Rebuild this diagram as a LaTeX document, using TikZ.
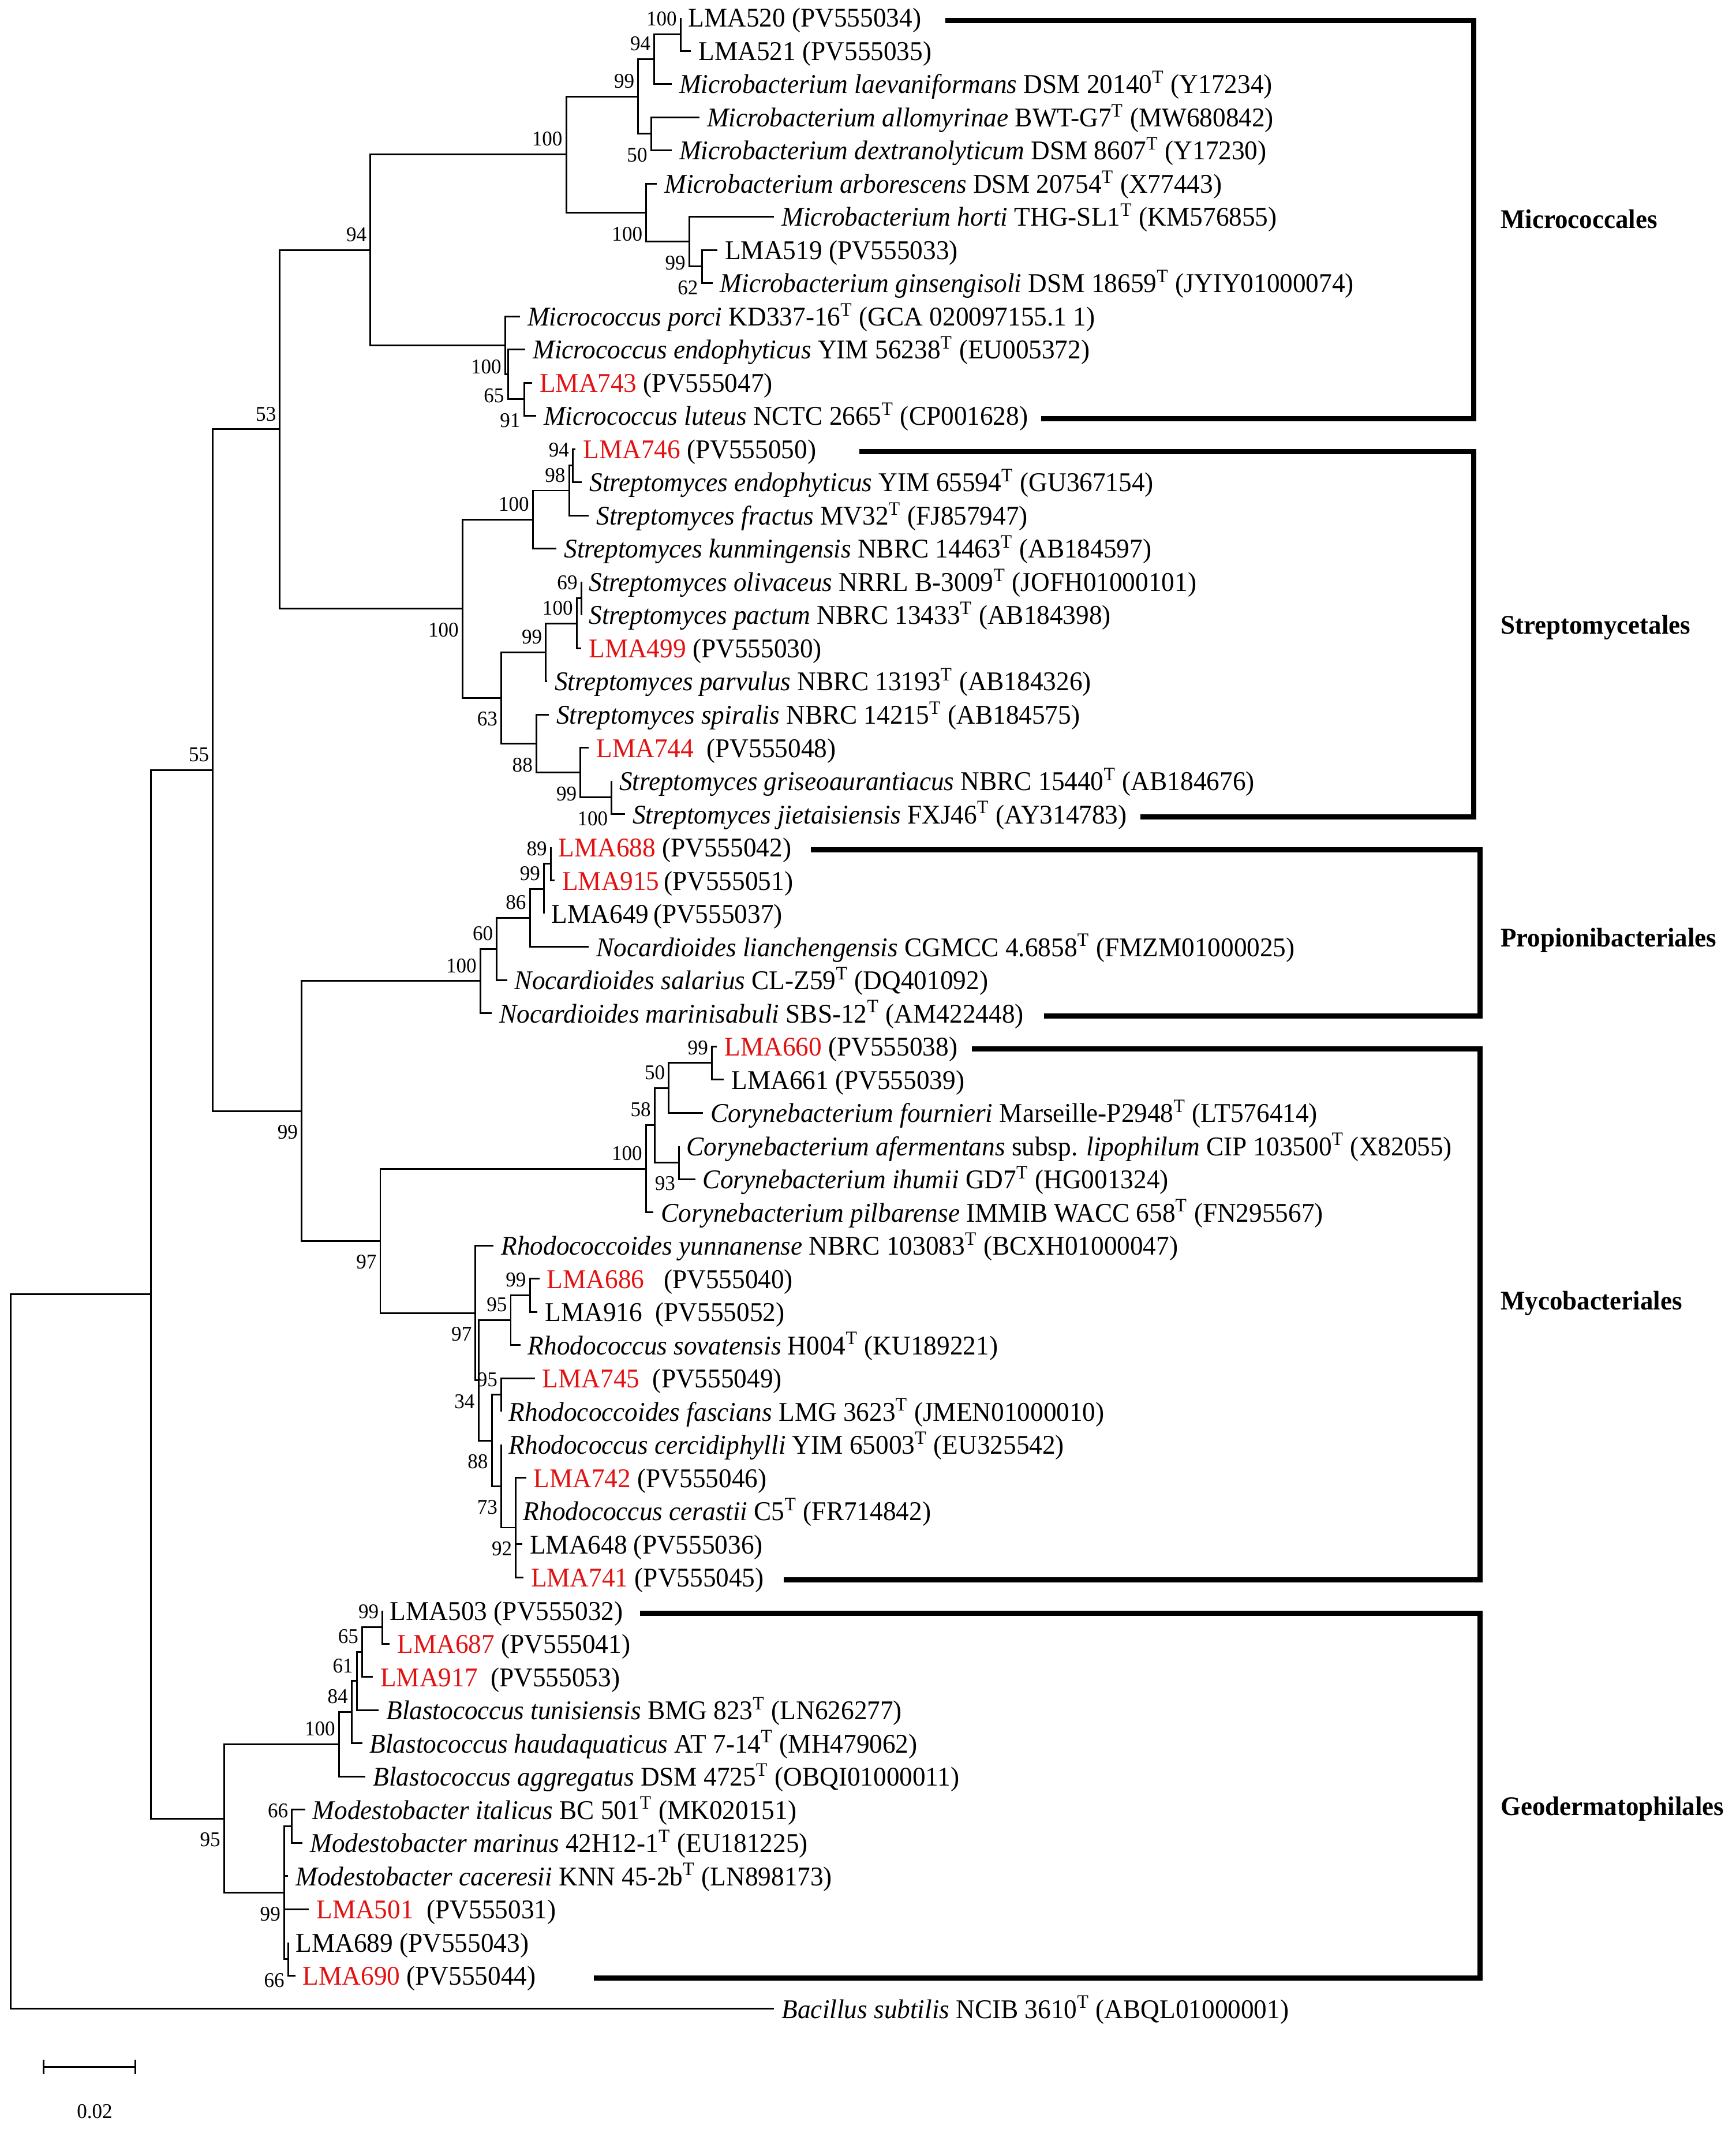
\documentclass[tikz,border=0pt]{standalone}
\usepackage{fontspec}
\setmainfont{Liberation Serif}[FakeStretch=0.965]
\definecolor{isolate}{RGB}{226,18,18}
\newcommand{\tsup}{\textsuperscript{T}}
\newcommand{\iso}[1]{\textcolor{isolate}{#1}}

\begin{document}
\begin{tikzpicture}[x=0.025cm, y=-0.61175cm,
	branch/.style={line width=0.9pt},
	clade/.style={line width=2.7pt, line join=miter},
	leaf/.style={anchor=west, inner xsep=3.8pt, inner ysep=0pt, text height=11.3pt, text depth=1.4pt, font=\fontsize{14.2}{17}\selectfont},
	boot/.style={inner sep=0pt, font=\fontsize{11}{13}\selectfont},
	bsup/.style={boot, anchor=south east, xshift=-1.8pt, yshift=4.2pt},
	bsdown/.style={boot, anchor=north east, xshift=-1.8pt, yshift=-7.2pt},
	order/.style={anchor=west, inner sep=0pt, text height=9.4pt, text depth=0pt, font=\fontsize{14.1}{17}\selectfont\bfseries}]
	\useasboundingbox (0,0.4687) rectangle (1280,64.743);

	\coordinate (a100) at (502,1.5);
	\coordinate (a94) at (482.6,2.25);
	\coordinate (a50) at (480.2,4.5);
	\coordinate (a99) at (470.7,3.375);
	\coordinate (b62) at (517.6,8.5);
	\coordinate (b99) at (508.3,7.75);
	\coordinate (b100) at (476.6,6.875);
	\coordinate (m100) at (417.6,5.125);
	\coordinate (c91) at (386.5,12.5);
	\coordinate (c65) at (374.6,11.75);
	\coordinate (c100) at (372.6,10.875);
	\coordinate (m94) at (273.2,8);
	\coordinate (s94) at (422.5,14.5);
	\coordinate (s98) at (419.7,15.25);
	\coordinate (s100a) at (393,16.125);
	\coordinate (s69) at (428.7,18.5);
	\coordinate (s100b) at (425.3,19.25);
	\coordinate (s99a) at (402.6,20.125);
	\coordinate (s100c) at (451.1,24.5);
	\coordinate (s99b) at (428.1,23.75);
	\coordinate (s88) at (395.6,22.875);
	\coordinate (s63) at (369.7,21.5);
	\coordinate (s100) at (341.1,18.8125);
	\coordinate (m53) at (206.4,13.40625);
	\coordinate (p89) at (406.2,26.5);
	\coordinate (p99) at (401.2,27.25);
	\coordinate (p86) at (390.8,28.125);
	\coordinate (p60) at (366.4,29.0625);
	\coordinate (p100) at (354.3,30.03125);
	\coordinate (y99) at (525,32.5);
	\coordinate (y50) at (493.2,33.25);
	\coordinate (y93) at (500.8,35.5);
	\coordinate (y58) at (482.8,34.375);
	\coordinate (y100) at (476.4,35.6875);
	\coordinate (r99) at (390.8,39.5);
	\coordinate (r95a) at (376.7,40.25);
	\coordinate (r95b) at (369.7,42.5);
	\coordinate (r92) at (380.4,46.5);
	\coordinate (r73) at (369.7,45.25);
	\coordinate (r88) at (362.7,43.875);
	\coordinate (r34) at (352.9,42.0625);
	\coordinate (r97) at (350.7,40.03125);
	\coordinate (y97) at (280.5,37.859);
	\coordinate (m99) at (222.4,33.945);
	\coordinate (m55) at (157,23.676);
	\coordinate (g99) at (282.1,49.5);
	\coordinate (g65) at (267.1,50.25);
	\coordinate (g61) at (263.2,51.125);
	\coordinate (g84) at (259.3,52.0625);
	\coordinate (g100) at (250,53.03125);
	\coordinate (g66a) at (215.3,55.5);
	\coordinate (g66b) at (212.5,59.5);
	\coordinate (g99m) at (209.6,57.5);
	\coordinate (g95) at (165.3,55.266);
	\coordinate (m0) at (111.4,39.471);
	\coordinate (root) at (7.9,50.235);

	\node [leaf] (l1) at (502,1) {LMA520 (PV555034)};
	\node [leaf] (l2) at (509.7,2) {LMA521 (PV555035)};
	\node [leaf] (l3) at (495.4,3) {\textit{Microbacterium laevaniformans} DSM 20140\tsup{} (Y17234)};
	\node [leaf] (l4) at (515.8,4) {\textit{Microbacterium allomyrinae} BWT-G7\tsup{} (MW680842)};
	\node [leaf] (l5) at (495.4,5) {\textit{Microbacterium dextranolyticum} DSM 8607\tsup{} (Y17230)};
	\node [leaf] (l6) at (484.5,6) {\textit{Microbacterium arborescens} DSM 20754\tsup{} (X77443)};
	\node [leaf] (l7) at (571,7) {\textit{Microbacterium horti} THG-SL1\tsup{} (KM576855)};
	\node [leaf] (l8) at (529.1,8) {LMA519 (PV555033)};
	\node [leaf] (l9) at (525.5,9) {\textit{Microbacterium ginsengisoli} DSM 18659\tsup{} (JYIY01000074)};
	\node [leaf] (l10) at (383.5,10) {\textit{Micrococcus porci} KD337-16\tsup{} (GCA 020097155.1 1)};
	\node [leaf] (l11) at (387.5,11) {\textit{Micrococcus endophyticus} YIM 56238\tsup{} (EU005372)};
	\node [leaf] (l12) at (392.4,12) {\iso{LMA743} (PV555047)};
	\node [leaf] (l13) at (395.4,13) {\textit{Micrococcus luteus} NCTC 2665\tsup{} (CP001628)};
	\node [leaf] (l14) at (424.5,14) {\iso{LMA746} (PV555050)};
	\node [leaf] (l15) at (429.2,15) {\textit{Streptomyces endophyticus} YIM 65594\tsup{} (GU367154)};
	\node [leaf] (l16) at (434.3,16) {\textit{Streptomyces fractus} MV32\tsup{} (FJ857947)};
	\node [leaf] (l17) at (410.4,17) {\textit{Streptomyces kunmingensis} NBRC 14463\tsup{} (AB184597)};
	\node [leaf] (l18) at (428.7,18) {\textit{Streptomyces olivaceus} NRRL B-3009\tsup{} (JOFH01000101)};
	\node [leaf] (l19) at (428.7,19) {\textit{Streptomyces pactum} NBRC 13433\tsup{} (AB184398)};
	\node [leaf] (l20) at (428.7,20) {\iso{LMA499} (PV555030)};
	\node [leaf] (l21) at (403.5,21) {\textit{Streptomyces parvulus} NBRC 13193\tsup{} (AB184326)};
	\node [leaf] (l22) at (404.8,22) {\textit{Streptomyces spiralis} NBRC 14215\tsup{} (AB184575)};
	\node [leaf] (l23) at (434.3,23) {\iso{LMA744}\ \ (PV555048)};
	\node [leaf] (l24) at (451.1,24) {\textit{Streptomyces griseoaurantiacus} NBRC 15440\tsup{} (AB184676)};
	\node [leaf] (l25) at (461,25) {\textit{Streptomyces jietaisiensis} FXJ46\tsup{} (AY314783)};
	\node [leaf] (l26) at (406.2,26) {\iso{LMA688} (PV555042)};
	\node [leaf] (l27) at (409,27) {\iso{LMA915}\,(PV555051)};
	\node [leaf] (l28) at (401.2,28) {LMA649\,(PV555037)};
	\node [leaf] (l29) at (434.3,29) {\textit{Nocardioides lianchengensis} CGMCC 4.6858\tsup{} (FMZM01000025)};
	\node [leaf] (l30) at (374,30) {\textit{Nocardioides salarius} CL-Z59\tsup{} (DQ401092)};
	\node [leaf] (l31) at (362.7,31) {\textit{Nocardioides marinisabuli} SBS-12\tsup{} (AM422448)};
	\node [leaf] (l32) at (528.8,32) {\iso{LMA660} (PV555038)};
	\node [leaf] (l33) at (533.9,33) {LMA661 (PV555039)};
	\node [leaf] (l34) at (518.5,34) {\textit{Corynebacterium fournieri} Marseille-P2948\tsup{} (LT576414)};
	\node [leaf] (l35) at (500.8,35) {\textit{Corynebacterium afermentans} subsp. \textit{lipophilum} CIP 103500\tsup{} (X82055)};
	\node [leaf] (l36) at (512.8,36) {\textit{Corynebacterium ihumii} GD7\tsup{} (HG001324)};
	\node [leaf] (l37) at (482,37) {\textit{Corynebacterium pilbarense} IMMIB WACC 658\tsup{} (FN295567)};
	\node [leaf] (l38) at (364.1,38) {\textit{Rhodococcoides yunnanense} NBRC 103083\tsup{} (BCXH01000047)};
	\node [leaf] (l39) at (397.8,39) {\iso{LMA686}\ \ \ (PV555040)};
	\node [leaf] (l40) at (396.4,40) {LMA916\ \ (PV555052)};
	\node [leaf] (l41) at (383.8,41) {\textit{Rhodococcus sovatensis} H004\tsup{} (KU189221)};
	\node [leaf] (l42) at (394.4,42) {\iso{LMA745}\ \ (PV555049)};
	\node [leaf] (l43) at (369.7,43) {\textit{Rhodococcoides fascians} LMG 3623\tsup{} (JMEN01000010)};
	\node [leaf] (l44) at (369.7,44) {\textit{Rhodococcus cercidiphylli} YIM 65003\tsup{} (EU325542)};
	\node [leaf] (l45) at (388,45) {\iso{LMA742} (PV555046)};
	\node [leaf] (l46) at (380.4,46) {\textit{Rhodococcus cerastii} C5\tsup{} (FR714842)};
	\node [leaf] (l47) at (385.2,47) {LMA648 (PV555036)};
	\node [leaf] (l48) at (386,48) {\iso{LMA741} (PV555045)};
	\node [leaf] (l49) at (282.1,49) {LMA503 (PV555032)};
	\node [leaf] (l50) at (287.5,50) {\iso{LMA687} (PV555041)};
	\node [leaf] (l51) at (275,51) {\iso{LMA917}\ \ (PV555053)};
	\node [leaf] (l52) at (279.3,52) {\textit{Blastococcus tunisiensis} BMG 823\tsup{} (LN626277)};
	\node [leaf] (l53) at (267.1,53) {\textit{Blastococcus haudaquaticus} AT 7-14\tsup{} (MH479062)};
	\node [leaf] (l54) at (269.6,54) {\textit{Blastococcus aggregatus} DSM 4725\tsup{} (OBQI01000011)};
	\node [leaf] (l55) at (225,55) {\textit{Modestobacter italicus} BC 501\tsup{} (MK020151)};
	\node [leaf] (l56) at (223.2,56) {\textit{Modestobacter marinus} 42H12-1\tsup{} (EU181225)};
	\node [leaf] (l57) at (212.5,57) {\textit{Modestobacter caceresii} KNN 45-2b\tsup{} (LN898173)};
	\node [leaf] (l58) at (227.8,58) {\iso{LMA501}\ \ (PV555031)};
	\node [leaf] (l59) at (212.5,59) {LMA689 (PV555043)};
	\node [leaf] (l60) at (217.8,60) {\iso{LMA690} (PV555044)};
	\node [leaf] (l61) at (571,61) {\textit{Bacillus subtilis} NCIB 3610\tsup{} (ABQL01000001)};

	\foreach \p/\c in {a94/a100, a99/a94, a99/a50, m100/a99, b99/b62, b100/b99, m100/b100, m94/m100, c65/c91, c100/c65, m94/c100, m53/m94,
		s98/s94, s100a/s98, s100/s100a, s100b/s69, s99a/s100b, s63/s99a, s99b/s100c, s88/s99b, s63/s88, s100/s63, m53/s100, m55/m53,
		p99/p89, p86/p99, p60/p86, p100/p60, m99/p100,
		y50/y99, y58/y50, y58/y93, y100/y58, y97/y100, r95a/r99, r34/r95a, r88/r95b, r73/r92, r88/r73, r34/r88, r97/r34, y97/r97, m99/y97, m55/m99, m0/m55,
		g65/g99, g61/g65, g84/g61, g100/g84, g95/g100, g99m/g66a, g99m/g66b, g95/g99m, m0/g95, root/m0}
		\draw [branch] (\p) |- (\c);
	\foreach \p/\c in {a100/1, a100/2, a94/3, a50/4, a50/5, b100/6, b99/7, b62/8, b62/9, c100/10, c65/11, c91/12, c91/13,
		s94/14, s94/15, s98/16, s100a/17, s69/18, s69/19, s100b/20, s99a/21, s88/22, s99b/23, s100c/24, s100c/25,
		p89/26, p89/27, p99/28, p86/29, p60/30, p100/31,
		y99/32, y99/33, y50/34, y93/35, y93/36, y100/37, r97/38, r99/39, r99/40, r95a/41, r95b/42, r95b/43, r73/44, r92/45, r92/46, r92/47, r92/48,
		g99/49, g99/50, g65/51, g61/52, g84/53, g100/54, g66a/55, g66a/56, g99m/57, g99m/58, g66b/59, g66b/60, root/61}
		\draw [branch] (\p) |- (l\c.west);

	\foreach \n/\v in {a100/100, a94/94, a99/99, m100/100, m94/94, m53/53, m55/55, s100a/100, s98/98, s94/94, s99a/99, s100b/100, s69/69,
		p100/100, p60/60, p86/86, p99/99, p89/89, y100/100, y58/58, y50/50, y99/99, r95a/95, r99/99, r95b/95,
		g100/100, g84/84, g61/61, g65/65, g99/99, g66a/66}
		\node [bsup] (bs-\n) at (\n) {\v};
	\foreach \n/\v in {a50/50, b100/100, b99/99, b62/62, c100/100, c65/65, c91/91, s100/100, s63/63, s88/88, s99b/99, s100c/100,
		m99/99, y97/97, y93/93, r97/97, r34/34, r88/88, r73/73, r92/92, g95/95, g99m/99, g66b/66}
		\node [bsdown] (bs-\n) at (\n) {\v};

	\coordinate (mic-a) at (697,1.08);
	\coordinate (mic-c) at (1087,13.08);
	\coordinate (mic-b) at (768,13.08);
	\coordinate (str-a) at (634,14.08);
	\coordinate (str-c) at (1087,25.08);
	\coordinate (str-b) at (841,25.08);
	\coordinate (pro-a) at (598,26.08);
	\coordinate (pro-c) at (1091.5,31.08);
	\coordinate (pro-b) at (770,31.08);
	\coordinate (myc-a) at (717,32.08);
	\coordinate (myc-c) at (1091.5,48.08);
	\coordinate (myc-b) at (578,48.08);
	\coordinate (geo-a) at (472,49.08);
	\coordinate (geo-c) at (1091.5,60.08);
	\coordinate (geo-b) at (438,60.08);
	\draw [clade] (mic-a) -| (mic-c) -- (mic-b);
	\draw [clade] (str-a) -| (str-c) -- (str-b);
	\draw [clade] (pro-a) -| (pro-c) -- (pro-b);
	\draw [clade] (myc-a) -| (myc-c) -- (myc-b);
	\draw [clade] (geo-a) -| (geo-c) -- (geo-b);

	\node [order] (mic) at (1106.5,7.08) {Micrococcales};
	\node [order] (str) at (1106.5,19.31) {Streptomycetales};
	\node [order] (pro) at (1106.5,28.72) {Propionibacteriales};
	\node [order] (myc) at (1106.5,39.66) {Mycobacteriales};
	\node [order] (geo) at (1106.5,54.90) {Geodermatophilales};

	\coordinate (sb-l) at (32.1,62.75);
	\coordinate (sb-r) at (100,62.75);
	\draw [branch] (sb-l) -- (sb-r);
	\draw [branch] ([yshift=3.9pt]sb-l) -- ([yshift=-3.9pt]sb-l);
	\draw [branch] ([yshift=3.9pt]sb-r) -- ([yshift=-3.9pt]sb-r);
	\node [boot] (sb) at (69.8,64.09) {0.02};
\end{tikzpicture}
\end{document}
